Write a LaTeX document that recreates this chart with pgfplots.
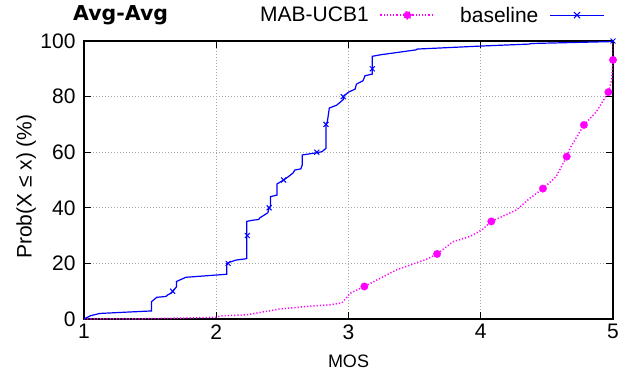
\documentclass[border=0pt]{standalone}
\usepackage{fontspec}
\setmainfont{Liberation Sans}
\newfontfamily\titlefont{DejaVu Sans}
\usepackage{pgfplots}
\pgfplotsset{compat=1.18}
\definecolor{mabpink}{RGB}{255,0,255}
\definecolor{baseblue}{RGB}{0,0,255}

\begin{document}
\begin{tikzpicture}
\useasboundingbox (-84bp,-56bp) rectangle (545bp,319bp);
\begin{axis}[
  at={(0,0)}, anchor=south west,
  scale only axis, width=529bp, height=278bp,
  xmin=1, xmax=5, ymin=0, ymax=100,
  xtick={1,2,3,4,5}, ytick={0,20,40,60,80,100},
  tick align=inside, major tick length=7bp,
  grid=major,
  major grid style={gray!70, line width=0.8bp, dash pattern=on 1bp off 2bp},
  axis line style={line width=1.2bp},
  every tick/.style={black, line width=1bp},
  /pgf/number format/assume math mode=true,
  tick label style={font=\fontsize{21bp}{25bp}\selectfont},
  xticklabel style={yshift=-2bp},
  yticklabel style={xshift=-5bp},
  xlabel={MOS},
  xlabel style={font=\fontsize{18bp}{22bp}\selectfont, at={(axis description cs:0.5,-0.1737)}, anchor=base, inner sep=0pt},
  ylabel={Prob(X ≤ x) (\%)},
  ylabel style={font=\fontsize{21bp}{25bp}\selectfont, at={(axis description cs:-0.0989,0.476)}, anchor=base, inner sep=0pt},
  title={Avg-Avg},
  title style={font=\fontsize{20.5bp}{24bp}\titlefont\bfseries, at={(axis description cs:-0.0208,1.054)}, anchor=base west, inner sep=0pt},
  legend plot pos=right,
  legend columns=2,
  legend style={draw=none, fill=none, font=\fontsize{21bp}{25bp}\selectfont,
    at={(axis description cs:0.3289,1.0928)}, anchor=west, inner sep=0pt,
    /tikz/every odd column/.append style={column sep=9bp},
    /tikz/every even column/.append style={column sep=23bp}},
]
\addplot[mabpink, line width=1.5bp, dash pattern=on 1.2bp off 2bp, mark=none,
  legend image code/.code={
    \draw[mabpink, line width=1.5bp, dash pattern=on 1.2bp off 2bp] (0bp,0bp) -- (54bp,0bp);
    \fill[mabpink] (27bp,0bp) circle (3.7bp);}]
coordinates {
(1.0,0) (1.5,0.1) (2.0,0.6) (2.03,1.1) (2.23,1.5) (2.48,3.6) (2.73,4.7) (2.86,5.1)
(2.95,5.8) (2.99,8) (3.01,9.2) (3.12,11.7) (3.36,17.6) (3.59,21.5) (3.67,23.4)
(3.79,27.8) (3.92,29.7) (4.01,32.1) (4.08,35.1) (4.27,39.2) (4.37,43.4) (4.47,46.9)
(4.57,51.2) (4.65,58.4) (4.675,61.4) (4.78,69.8) (4.875,74.6) (4.965,81.6) (4.99,86)
(5.0,93.2) (5.0,100)
};
\addlegendentry{MAB-UCB1}

\addplot[baseblue, line width=1.2bp, mark=none,
  legend image code/.code={
    \draw[baseblue, line width=1.2bp] (0bp,0bp) -- (54bp,0bp);
    \draw[baseblue, line width=1bp] (24bp,-3bp) -- (30bp,3bp) (24bp,3bp) -- (30bp,-3bp);}]
coordinates {
(1.00,0) (1.05,1.2) (1.12,2.0) (1.51,2.9) (1.51,6.2) (1.55,7.8) (1.62,8.1) (1.63,8.6)
(1.66,9.3) (1.68,10.5) (1.70,11.6) (1.70,13.5) (1.77,15.0) (2.08,16.1) (2.08,20)
(2.10,20.4) (2.15,21.2) (2.23,21.7) (2.23,35.1) (2.27,35.5) (2.32,35.8) (2.33,36.4)
(2.39,38.2) (2.40,40) (2.41,40.5) (2.41,44) (2.46,44.6) (2.46,48.6) (2.51,50)
(2.545,51.2) (2.58,52.5) (2.595,53.6) (2.64,54) (2.65,55.4) (2.65,59) (2.76,59.8)
(2.80,60.2) (2.83,61.4) (2.83,69.8) (2.84,71) (2.855,75.9) (2.91,76.9) (2.96,78.9)
(2.96,80) (3.00,81.6) (3.05,82.7) (3.06,84.5) (3.11,85.7) (3.125,87.5) (3.18,88.1)
(3.18,94.5) (3.25,95.1) (3.51,96.8) (3.52,97.1) (4.01,98.2) (4.37,98.9) (4.38,99.1)
(5.0,99.8) (5.0,100)
};
\addlegendentry{baseline}

\addplot[only marks, mabpink, mark=*, mark size=3.7bp, forget plot]
coordinates {
(3.12,11.7) (3.67,23.4) (4.08,35.1) (4.47,46.9) (4.65,58.4) (4.78,69.8) (4.965,81.6) (5.0,93.2)
};
\addplot[only marks, baseblue, mark=x, mark size=3.5bp, mark options={line width=1bp}, forget plot]
coordinates {
(1.67,10) (2.09,20) (2.235,30) (2.40,40) (2.51,50) (2.76,60) (2.83,70) (2.96,80) (3.18,90) (5.0,100)
};
\end{axis}
\end{tikzpicture}
\end{document}
